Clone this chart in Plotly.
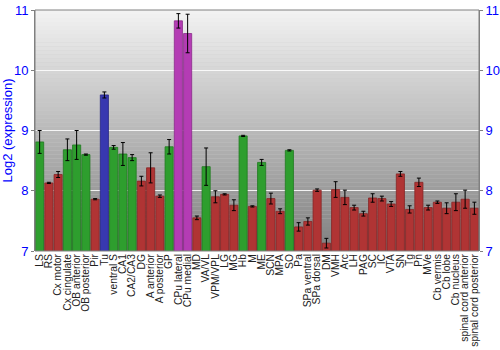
import plotly.graph_objects as go

categories = ["LS", "RS", "Cx motor", "Cx cingulate", "OB anterior", "OB posterior", "Pir", "Tu",
              "ventral S", "CA1", "CA2/CA3", "DG", "A anterior", "A posterior", "GP",
              "CPu lateral", "CPu medial", "MD", "VA/VL", "VPM/VPL", "LG", "MG", "Hb", "M",
              "ME", "SCN", "MPA", "SO", "Pa", "SPa ventral", "SPa dorsal", "DM", "VMH", "Arc",
              "LH", "PAG", "SC", "IC", "VTA", "SN", "Tg", "Pn", "MVe", "Cb vermis", "Cb lobe",
              "Cb nucleus", "spinal cord anterior", "spinal cord posterior"]
values = [8.81, 8.13, 8.27, 8.68, 8.76, 8.60, 7.86, 9.59,
          8.72, 8.61, 8.55, 8.16, 8.38, 7.91, 8.73,
          10.82, 10.61, 7.55, 8.40, 7.90, 7.94, 7.76, 8.91, 7.74,
          8.47, 7.87, 7.66, 8.67, 7.40, 7.49, 8.01, 7.13, 8.02, 7.89,
          7.72, 7.62, 7.88, 7.87, 7.78, 8.28, 7.69, 8.14, 7.72, 7.81, 7.71,
          7.81, 7.86, 7.71]
errors = [0.19, 0.01, 0.05, 0.18, 0.24, 0.01, 0.01, 0.05,
          0.03, 0.19, 0.05, 0.08, 0.25, 0.02, 0.12,
          0.12, 0.32, 0.03, 0.31, 0.10, 0.01, 0.09, 0.01, 0.01,
          0.05, 0.09, 0.04, 0.01, 0.07, 0.06, 0.02, 0.08, 0.13, 0.12,
          0.04, 0.04, 0.07, 0.04, 0.04, 0.04, 0.06, 0.07, 0.04, 0.02, 0.09,
          0.14, 0.15, 0.10]
groups = ["g", "r", "r", "g", "g", "g", "r", "b",
          "g", "g", "g", "r", "r", "r", "g",
          "m", "m", "r", "g", "r", "r", "r", "g", "r",
          "g", "r", "r", "g", "r", "r", "r", "r", "r", "r",
          "r", "r", "r", "r", "r", "r", "r", "r", "r", "r", "r",
          "r", "r", "r"]
y_ticks = [7, 8, 9, 10, 11]

fill = {"g": "#2e9e2e", "r": "#b03434", "b": "#3838b0", "m": "#b43cb4"}
edge = {"g": "#1f7a1f", "r": "#862424", "b": "#262684", "m": "#8a2a8a"}

fig = go.Figure()
fig.add_trace(go.Bar(
    x=categories, y=values, base=0,
    marker=dict(color=[fill[g] for g in groups],
                line=dict(color=[edge[g] for g in groups], width=0.8)),
    error_y=dict(type="data", array=errors, color="black", thickness=1, width=2),
    showlegend=False,
))
# invisible trace for right axis
fig.add_trace(go.Scatter(x=[categories[0]], y=[7], yaxis="y2", mode="markers",
                         marker=dict(opacity=0), showlegend=False, hoverinfo="skip"))

# background gradient
shapes = []
n = 60
top = (242, 242, 242)
bot = (128, 128, 128)
for i in range(n):
    t = i / (n - 1)
    c = tuple(int(round(top[k] + (bot[k] - top[k]) * t)) for k in range(3))
    shapes.append(dict(type="rect", xref="paper", yref="paper",
                       x0=0, x1=1, y0=1 - (i + 1) / n, y1=1 - i / n,
                       fillcolor="rgb(%d,%d,%d)" % c, line=dict(width=0), layer="below"))
shapes.append(dict(type="rect", xref="paper", yref="paper", x0=0, x1=1, y0=0, y1=1,
                   line=dict(color="#808080", width=1), fillcolor="rgba(0,0,0,0)", layer="above"))

fig.update_layout(
    width=500, height=350,
    margin=dict(l=35, r=21, t=10, b=99),
    paper_bgcolor="white", plot_bgcolor="#cccccc",
    bargap=0.12,
    shapes=shapes,
    font=dict(family="Liberation Sans, Arial, sans-serif"),
    xaxis=dict(tickangle=-90, tickfont=dict(size=10.3, color="#222222"), showgrid=False,
               tickmode="array", tickvals=categories, ticktext=categories,
               ticks="", automargin=False, range=[-0.5, len(categories) - 0.5]),
    yaxis=dict(range=[7, 11], tickvals=y_ticks, tickfont=dict(size=13, color="blue"),
               title=dict(text="Log2 (expression)", font=dict(size=13, color="blue"), standoff=4),
               gridcolor="rgba(255,255,255,0.85)", gridwidth=1.2, zeroline=False,
               showline=True, linecolor="#808080", ticks="outside", ticklen=3,
               tickcolor="#808080", automargin=False),
    yaxis2=dict(range=[7, 11], tickvals=y_ticks, overlaying="y", side="right",
                tickfont=dict(size=13, color="blue"), showgrid=False, zeroline=False,
                showline=True, linecolor="#808080", ticks="outside", ticklen=3,
                tickcolor="#808080", automargin=False),
)
fig.write_html("out.html")
